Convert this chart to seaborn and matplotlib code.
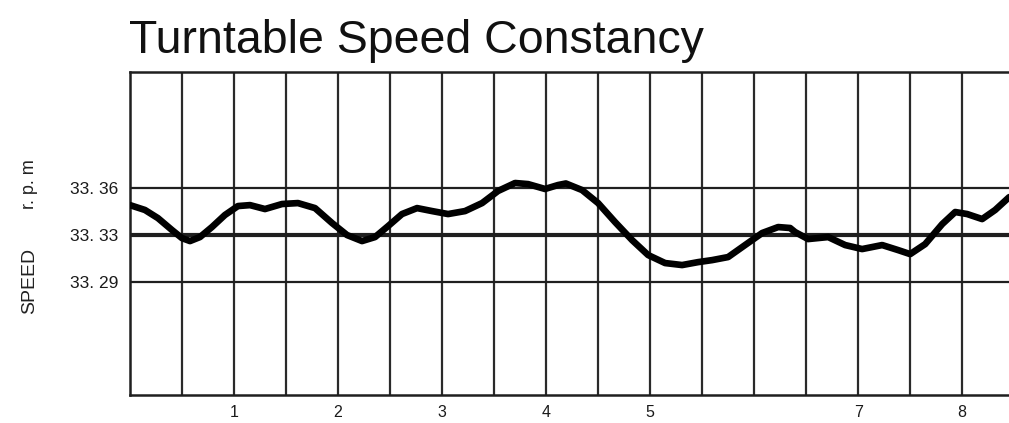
import numpy as np
import pandas as pd
import matplotlib
matplotlib.use("Agg")
import matplotlib.pyplot as plt
import seaborn as sns

# time axis position (chart units) and speed (rpm)
TIME = [0.000, 0.144, 0.269, 0.404, 0.500, 0.577, 0.673, 0.788, 0.913,
        1.038, 1.154, 1.298, 1.462, 1.615, 1.779, 1.942, 2.087, 2.231,
        2.356, 2.481, 2.615, 2.760, 2.904, 3.058, 3.221, 3.385, 3.538,
        3.702, 3.827, 3.990, 4.115, 4.190, 4.346, 4.500, 4.663, 4.827,
        4.981, 5.144, 5.308, 5.462, 5.596, 5.750, 5.913, 6.077, 6.231,
        6.346, 6.394, 6.519, 6.712, 6.875, 7.038, 7.231, 7.385, 7.500,
        7.644, 7.808, 7.933, 8.048, 8.192, 8.317, 8.452]
SPEED = [33.3491, 33.3460, 33.3408, 33.3332, 33.3274, 33.3249, 33.3283,
         33.3351, 33.3428, 33.3485, 33.3491, 33.3466, 33.3498, 33.3504,
         33.3472, 33.3377, 33.3300, 33.3249, 33.3283, 33.3357, 33.3434,
         33.3472, 33.3453, 33.3434, 33.3453, 33.3504, 33.3581, 33.3632,
         33.3625, 33.3594, 33.3619, 33.3629, 33.3587, 33.3504, 33.3383,
         33.3257, 33.3130, 33.3062, 33.3045, 33.3070, 33.3087, 33.3113,
         33.3215, 33.3313, 33.3351, 33.3345, 33.3319, 33.3266, 33.3283,
         33.3215, 33.3181, 33.3215, 33.3172, 33.3138, 33.3223, 33.3370,
         33.3447, 33.3434, 33.3402, 33.3460, 33.3542]

Y_TICKS = [33.36, 33.33, 33.29]
Y_LABELS = ["33. 36", "33. 33", "33. 29"]
X_TICKS = list(np.arange(0.5, 8.5, 0.5))
X_LABELS = ["1", "2", "3", "4", "5", "", "7", "8"]

NOMINAL = 33.33


def fwd(y):
    # printed scale: 0.03 rpm per division above nominal, 0.04 below
    y = np.asarray(y, dtype=float)
    return np.where(y >= NOMINAL, (y - NOMINAL) / 0.03, (y - NOMINAL) / 0.04)


def inv(u):
    u = np.asarray(u, dtype=float)
    return np.where(u >= 0, NOMINAL + u * 0.03, NOMINAL + u * 0.04)


def main():
    sns.set_style("white")
    plt.rcParams["font.family"] = ["Liberation Sans", "DejaVu Sans"]

    df = pd.DataFrame({"time": TIME, "speed": SPEED})

    fig = plt.figure(figsize=(10.09, 4.23), dpi=100)
    ax = fig.add_axes([0.1288, 0.0662, 0.8712, 0.7636])

    ax.set_yscale("function", functions=(fwd, inv))
    ax.set_ylim(33.194, 33.434)
    ax.set_xlim(0, 8.45)

    # vertical grid every half unit, only whole units labelled
    ax.set_xticks(X_TICKS)
    labels = []
    for t in X_TICKS:
        if float(t).is_integer():
            labels.append(X_LABELS[int(t) - 1])
        else:
            labels.append("")
    ax.set_xticklabels(labels, fontsize=11.5, color="#1a1a1a")
    ax.set_yticks(Y_TICKS)
    ax.set_yticklabels(Y_LABELS, fontsize=12.5, color="#1a1a1a")
    ax.yaxis.set_minor_locator(matplotlib.ticker.NullLocator())
    ax.tick_params(axis="both", length=0)
    ax.tick_params(axis="y", pad=8.5)
    ax.tick_params(axis="x", pad=7.5)
    ax.grid(True, axis="x", color="#2a2a2a", linewidth=1.6)
    for t in Y_TICKS:
        lw = 3.0 if t == NOMINAL else 1.6
        ax.axhline(t, color="#1f1f1f", linewidth=lw, zorder=1)

    sns.lineplot(data=df, x="time", y="speed", ax=ax, color="black",
                 linewidth=4.8, solid_joinstyle="round", solid_capstyle="round",
                 zorder=3)
    ax.set_xlabel("")
    ax.set_ylabel("")

    for side in ["left", "top", "bottom"]:
        ax.spines[side].set_color("#1f1f1f")
        ax.spines[side].set_linewidth(1.8)
    ax.spines["right"].set_visible(False)

    fig.text(0.128, 0.875, "Turntable Speed Constancy", fontsize=33.5,
             color="#111111", va="baseline", ha="left")
    fig.text(0.029, 0.336, "SPEED", rotation=90, fontsize=14,
             color="#222222", va="center", ha="center")
    fig.text(0.029, 0.565, "r. p. m", rotation=90, fontsize=13,
             color="#222222", va="center", ha="center")

    fig.savefig("out.png", dpi=100)


if __name__ == "__main__":
    main()
